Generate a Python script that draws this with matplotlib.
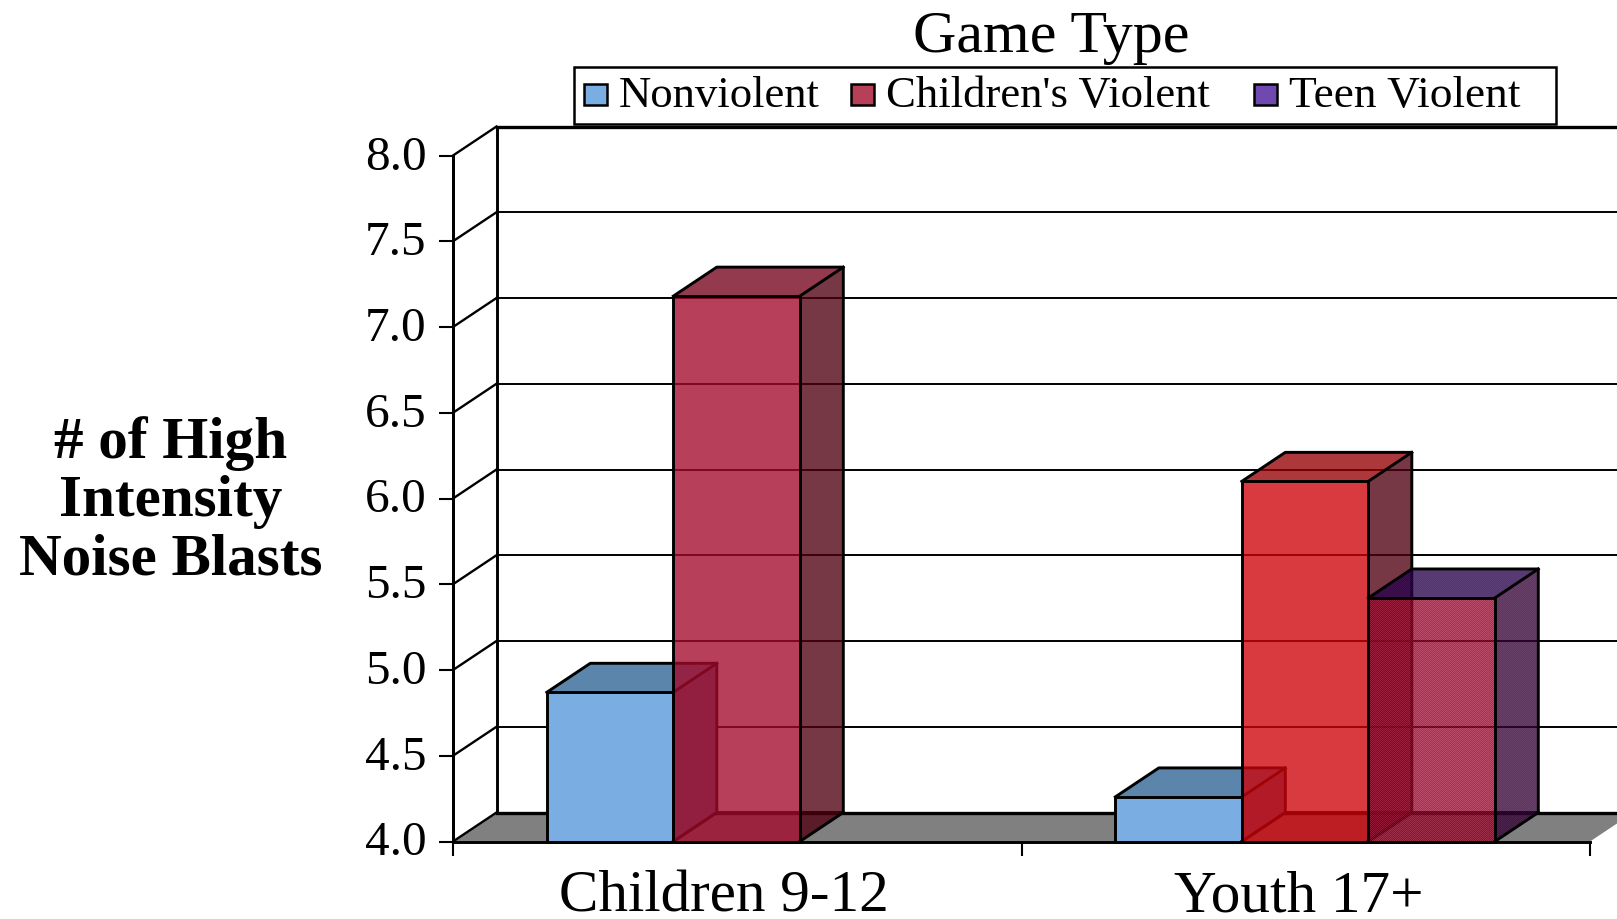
import numpy as np
import matplotlib
matplotlib.use('Agg')
import matplotlib.pyplot as plt
from matplotlib.patches import Polygon, Rectangle
from matplotlib.transforms import ScaledTranslation

categories = ['Children 9-12', 'Youth 17+']
series_names = ['Nonviolent', "Children's Violent", 'Teen Violent']
nonviolent = [4.87, 4.26]
childrens_violent = [7.18, 6.10]
teen_violent = [np.nan, 5.42]
y_ticks = [4.0, 4.5, 5.0, 5.5, 6.0, 6.5, 7.0, 7.5, 8.0]

W, H = 1617, 920
plt.rcParams['font.family'] = ['Liberation Serif', 'DejaVu Serif']

fig = plt.figure(figsize=(W / 100, H / 100), dpi=100)
ax = fig.add_axes([453 / W, (H - 842.5) / H, 1137 / W, 686 / H])
ax.set_xlim(0, 2)
ax.set_ylim(4, 8)

# depth of the fake 3d box, in data units
dx = 43.5 / 568.5
dy = 29 / 171.5
bar_w = 126.5 / 568.5
bar_start = 0.165
LW = 2.1


def line(xs, ys, lw=LW, z=2, color='k'):
    ax.plot(xs, ys, color=color, lw=lw, zorder=z, clip_on=False, solid_capstyle='projecting')


def poly(pts, fc, alpha=1.0, z=3):
    ax.add_patch(Polygon(pts, closed=True, fc=fc, ec='none', alpha=alpha, zorder=z, clip_on=False))


def checker(pts, c1, c2, alpha, z):
    # 1 pixel dither, clipped to the face
    pts = np.array(pts)
    disp = ax.transData.transform(pts)
    x0, y0 = np.floor(disp.min(axis=0)).astype(int)
    x1, y1 = np.ceil(disp.max(axis=0)).astype(int)
    yy, xx = np.mgrid[y0:y1, x0:x1]
    img = np.zeros(xx.shape + (4,))
    mask = (xx + yy) % 2 == 0
    img[mask, :3] = np.array(c1) / 255
    img[~mask, :3] = np.array(c2) / 255
    img[..., 3] = alpha
    inv = ax.transData.inverted()
    (a, b), (c, d) = inv.transform([(x0, y0), (x1, y1)])
    im = ax.imshow(img, extent=(a, c, b, d), origin='lower', interpolation='nearest',
                   aspect='auto', zorder=z, clip_on=True)
    im.set_clip_path(Polygon(pts, closed=True, transform=ax.transData))


def box_pts(x, top):
    front = [(x, 4), (x + bar_w, 4), (x + bar_w, top), (x, top)]
    side = [(x + bar_w, 4), (x + bar_w + dx, 4 + dy), (x + bar_w + dx, top + dy), (x + bar_w, top)]
    lid = [(x, top), (x + bar_w, top), (x + bar_w + dx, top + dy), (x + dx, top + dy)]
    return front, side, lid


def box_edges(x, top, z):
    xr = x + bar_w
    line([x, xr, xr, x, x], [4, 4, top, top, 4], z=z)
    line([x, x + dx, xr + dx, xr + dx, xr], [top, top + dy, top + dy, 4 + dy, 4], z=z)
    line([xr, xr + dx], [top, top + dy], z=z)


def hidden_edges(x, z):
    # only the floor edges show through, there is no back vertical
    line([x, x + dx, x + bar_w + dx], [4, 4 + dy, 4 + dy], z=z)


# floor and back wall
poly([(0, 4), (2, 4), (2 + dx, 4 + dy), (dx, 4 + dy)], '#808080', z=1)
line([dx, dx], [4 + dy, 8 + dy])
line([dx, 2.2], [8 + dy, 8 + dy], lw=2.4)
line([dx, 2 + dx], [4 + dy, 4 + dy], lw=2.4)
line([0, 0], [4, 8])
line([0, dx], [8, 8 + dy], lw=1.7)
line([0, dx], [4, 4 + dy], lw=1.7)
for t in y_ticks[1:-1]:
    line([0, dx], [t, t + dy], lw=1.7)
    line([dx, 2.2], [t + dy, t + dy], lw=1.4)

A = 0.78
z = 5
for i in range(len(categories)):
    # blue one is solid
    x = i + bar_start
    front, side, lid = box_pts(x, nonviolent[i])
    poly(side, '#566E8E', z=z)
    poly(lid, '#5B85AB', z=z)
    poly(front, '#7AAEE3', z=z)
    box_edges(x, nonviolent[i], z + 0.5)

    # the red bars are see through, the colour differs per group
    x = i + bar_start + bar_w
    top = childrens_violent[i]
    front, side, lid = box_pts(x, top)
    hidden_edges(x, z + 1)
    if i == 0:
        fc, lc, sc = '#A4092A', '#76031C', '#4E000F'
    else:
        fc, lc, sc = '#CE030A', '#960005', '#4E000F'
    poly(side, sc, A, z + 2)
    poly(lid, lc, A, z + 2)
    poly(front, fc, A, z + 2)
    box_edges(x, top, z + 3)

    if not np.isnan(teen_violent[i]):
        x = i + bar_start + 2 * bar_w
        top = teen_violent[i]
        front, side, lid = box_pts(x, top)
        hidden_edges(x, z + 4)
        checker(side, (60, 10, 60), (14, 0, 104), A, z + 5)
        checker(lid, (45, 6, 80), (5, 0, 136), A, z + 5)
        checker(front, (165, 25, 60), (35, 15, 170), A, z + 6)
        box_edges(x, top, z + 7)

ax.set_xlim(0, 2)
ax.set_ylim(4, 8)

# axes
for s in ['top', 'right']:
    ax.spines[s].set_visible(False)
for s in ['left', 'bottom']:
    ax.spines[s].set_linewidth(LW)
ax.patch.set_alpha(0)
ax.set_axisbelow(False)
ax.set_yticks(y_ticks)
ax.set_yticklabels(['%.1f' % t for t in y_ticks], fontsize=35.5)
ax.set_xticks([0, 1, 2])
ax.set_xticklabels([])
ax.tick_params(axis='both', length=10, width=1.5, pad=9)
# labels sit a little above their ticks
up = ScaledTranslation(0, 4 / 100, fig.dpi_scale_trans)
for tick in ax.yaxis.get_major_ticks():
    tick.label1.set_transform(tick.label1.get_transform() + up)

ax.text(0.477, -0.1, categories[0], fontsize=42.6, ha='center', va='baseline',
        transform=ax.get_xaxis_transform())
ax.text(1.488, -0.1, categories[1], fontsize=42.6, ha='center', va='baseline',
        transform=ax.get_xaxis_transform())

# text outside the axes
fig.text(171 / W, 1 - 502 / H, '# of High\nIntensity\nNoise Blasts', fontsize=42.6, fontweight='bold',
         ha='center', va='center', linespacing=1.11)
fig.text(1051 / W, 1 - 52 / H, 'Game Type', fontsize=43.2, ha='center', va='baseline')

# legend drawn by hand because the gaps between entries are uneven
fig.add_artist(Rectangle((574 / W, 1 - 125 / H), 982 / W, 57 / H, fc='white', ec='k', lw=1.8,
                         transform=fig.transFigure, zorder=20))
legend_x = [584, 851, 1254]
legend_colors = ['#7AAEE3', '#B83F58', '#7049B0']
legend_sizes = [32.2, 32.2, 32.7]
for name, px, col, fs in zip(series_names, legend_x, legend_colors, legend_sizes):
    fig.add_artist(Rectangle((px / W, 1 - 106 / H), 23 / W, 21 / H, fc=col, ec='k', lw=1.8,
                             transform=fig.transFigure, zorder=21))
    fig.text((px + 35) / W, 1 - 107 / H, name, fontsize=fs, ha='left', va='baseline', zorder=21)

fig.savefig('out.png', dpi=100)
